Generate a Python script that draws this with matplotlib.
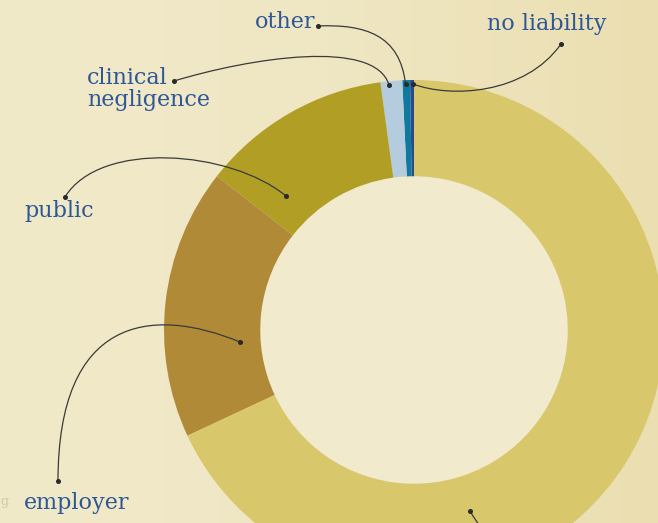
import numpy as np
import matplotlib
matplotlib.use("Agg")
import matplotlib.pyplot as plt
from matplotlib.path import Path
from matplotlib.patches import PathPatch
from matplotlib.colors import LinearSegmentedColormap

# ---- data (share of claims, counter-clockwise from 12 o'clock) ----
categories = ["no liability", "other", "clinical negligence", "public", "employer", "motor"]
values = [0.25, 0.5, 1.4, 12.3, 17.5, 68.05]
colors = ["#2B4A8B", "#0F7AA0", "#B5CCDF", "#B09E25", "#B08A36", "#D9C76C"]

W, H = 658, 523
fig = plt.figure(figsize=(W / 100, H / 100), dpi=100)
ax = fig.add_axes([0, 0, 1, 1])

# background gradient
grad = np.linspace(0, 1, 256).reshape(1, -1)
cmap_bg = LinearSegmentedColormap.from_list("bg", ["#F1EAC9", "#EFE6C3", "#EBDFB1"])
ax.imshow(grad, extent=[0, W, 0, H], aspect="auto", cmap=cmap_bg, zorder=0)

def py(y):
    return H - y

cx, cy = 414, py(330)
R = 250
wedges, _ = ax.pie(values, colors=colors, startangle=90, counterclock=True,
                   radius=R, center=(cx, cy),
                   wedgeprops=dict(width=R * 0.385, edgecolor="none", linewidth=0),
                   frame=True)
for w in wedges:
    w.set_zorder(2)
hole = plt.Circle((cx, cy), R * 0.615, color="#F1EACD", zorder=1)
ax.add_patch(hole)

ax.set_xlim(0, W)
ax.set_ylim(0, H)
ax.set_aspect("auto")
ax.axis("off")

txt_color = "#2D5796"
font = dict(family="DejaVu Serif", color=txt_color, fontsize=16, zorder=5)

ax.text(315, py(22), "other", ha="right", va="center", **font)
ax.text(87, py(89), "clinical\nnegligence", ha="left", va="center", linespacing=0.98, **font)
ax.text(487, py(24), "no liability", ha="left", va="center", **font)
ax.text(24, py(211), "public", ha="left", va="center", **font)
ax.text(24, py(503), "employer", ha="left", va="center", **font)
ax.text(0, py(502), "g", ha="left", va="center", family="DejaVu Serif",
        color="#CFC7A6", fontsize=9, zorder=5)

# leader curves (cubic Bezier, pixel coordinates)
leaders = [
    [(318, 26), (365, 24), (400, 35), (405.5, 84)],
    [(174, 81), (250, 58), (375, 38), (389, 85)],
    [(561, 44), (525, 95), (450, 98), (413, 84)],
    [(65, 197), (100, 140), (230, 150), (286, 196)],
    [(58, 481), (58, 318), (150, 305), (240, 342)],
    [(470, 511), (474, 518), (478, 523), (482, 530)],
]
for pts in leaders:
    verts = [(x, py(y)) for x, y in pts]
    path = Path(verts, [Path.MOVETO, Path.CURVE4, Path.CURVE4, Path.CURVE4])
    ax.add_patch(PathPatch(path, facecolor="none", edgecolor="#3A3A3A", lw=0.9, zorder=4))
    ax.plot([verts[0][0], verts[-1][0]], [verts[0][1], verts[-1][1]], "o",
            color="#2A2A2A", ms=2.6, zorder=5)

fig.savefig("out.png", dpi=100)
